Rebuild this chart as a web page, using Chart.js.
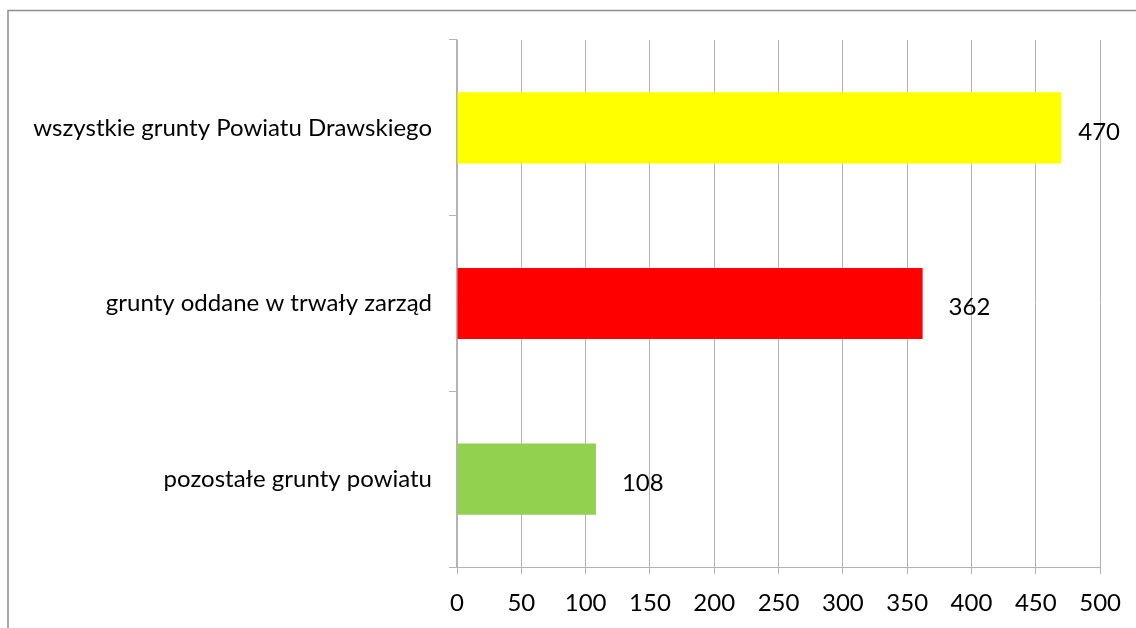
<!DOCTYPE html>
<html>
<head>
<meta charset="utf-8">
<script src="https://cdn.jsdelivr.net/npm/chart.js@4"></script>
<style>
  html, body { margin: 0; padding: 0; background: #fff; }
  #wrap { width: 1136px; height: 628px; }
</style>
</head>
<body>
<div id="wrap"><canvas id="chart" width="1136" height="628"></canvas></div>
<script>
// Categories and values
const categories = ['wszystkie grunty Powiatu Drawskiego', 'grunty oddane w trwały zarząd', 'pozostałe grunty powiatu'];
const values = [470, 362, 108];
const barColors = ['#FFFF00', '#FF0000', '#92D050'];
const xTicks = [0, 50, 100, 150, 200, 250, 300, 350, 400, 450, 500];

const FONT = 'Lato, "Open Sans", sans-serif';
const gridColor = '#b3b3b3';

// Outer frame of the chart object
const framePlugin = {
  id: 'frame',
  beforeDraw(chart) {
    const ctx = chart.ctx;
    ctx.save();
    ctx.fillStyle = '#fff';
    ctx.fillRect(0, 0, chart.width, chart.height);
    ctx.strokeStyle = '#8f8f8f';
    ctx.lineWidth = 1.5;
    ctx.strokeRect(8, 10.5, 2000, 2000);
    ctx.restore();
  }
};

// Value labels to the right of each bar
const valueLabels = {
  id: 'valueLabels',
  afterDatasetsDraw(chart) {
    const ctx = chart.ctx;
    const meta = chart.getDatasetMeta(0);
    ctx.save();
    ctx.font = '24px ' + FONT;
    ctx.fillStyle = '#000';
    ctx.textBaseline = 'middle';
    meta.data.forEach((bar, i) => {
      const txt = String(values[i]);
      const w = ctx.measureText(txt).width;
      let x = bar.x + 26;
      if (x + w > 1120) x = 1120 - w;
      ctx.fillText(txt, x, bar.y + 4);
    });
    ctx.restore();
  }
};

new Chart(document.getElementById('chart'), {
  type: 'bar',
  data: {
    labels: categories,
    datasets: [{
      data: values,
      backgroundColor: barColors,
      borderWidth: 0,
      barPercentage: 0.81,
      categoryPercentage: 0.5
    }]
  },
  options: {
    indexAxis: 'y',
    responsive: false,
    animation: false,
    layout: { padding: { top: 40, right: 35, left: 0, bottom: 0 } },
    plugins: {
      legend: { display: false },
      tooltip: { enabled: false }
    },
    scales: {
      x: {
        min: 0,
        max: 500,
        afterBuildTicks(scale) { scale.ticks = xTicks.map(v => ({ value: v })); },
        afterFit(scale) { scale.height = 61; },
        grid: { color: gridColor, lineWidth: 1, tickLength: 7, drawTicks: true },
        border: { color: gridColor, width: 1 },
        ticks: { color: '#000', font: { family: FONT, size: 24 }, padding: 15, maxRotation: 0 }
      },
      y: {
        afterFit(scale) { scale.width = 457; },
        grid: { offset: true, drawOnChartArea: false, color: gridColor, tickLength: 8 },
        border: { color: gridColor, width: 1.5 },
        ticks: { color: '#000', font: { family: FONT, size: 24 }, padding: 17 }
      }
    }
  },
  plugins: [framePlugin, valueLabels]
});
</script>
</body>
</html>
